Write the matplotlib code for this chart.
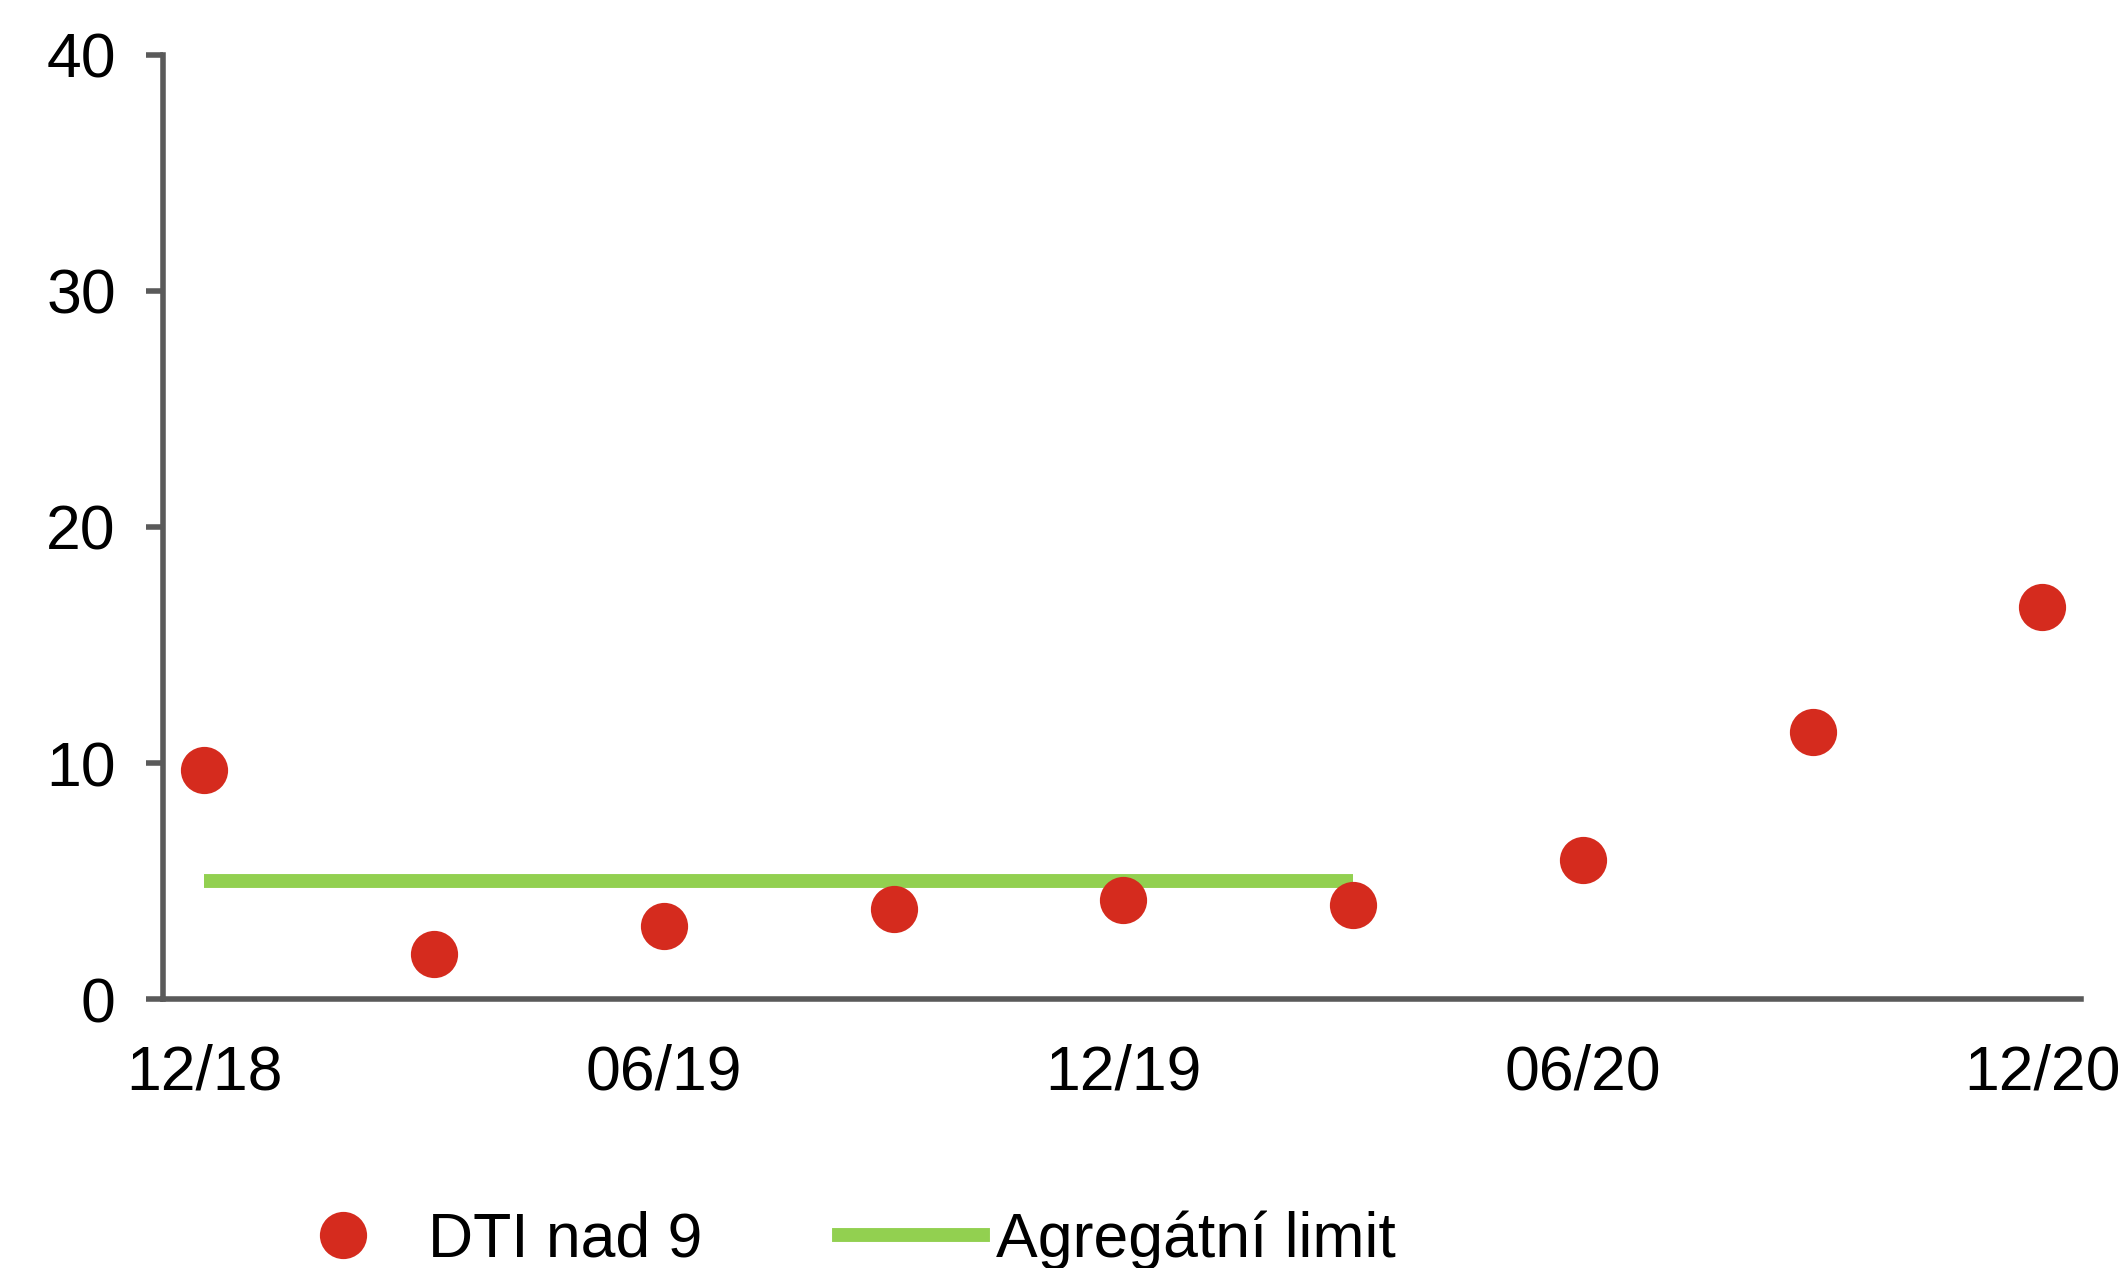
import numpy as np
import matplotlib.pyplot as plt
from matplotlib.lines import Line2D

plt.rcParams['font.family'] = ['Liberation Sans', 'DejaVu Sans']

# DATA
quarters = ["12/18", "03/19", "06/19", "09/19", "12/19", "03/20", "06/20", "09/20", "12/20"]
dti_over_9 = [9.7, 1.9, 3.1, 3.8, 4.2, 4.0, 5.9, 11.3, 16.6]
limit_quarters = ["12/18", "03/19", "06/19", "09/19", "12/19", "03/20"]
limit_values = [5, 5, 5, 5, 5, 5]
tick_labels = ["12/18", "06/19", "12/19", "06/20", "12/20"]
y_ticks = [0, 10, 20, 30, 40]

red = "#D52B1E"
green = "#92D050"
axis_grey = "#5A5A5A"

fig = plt.figure(figsize=(10.63, 6.34), dpi=200)
ax = fig.add_axes([0.0767, 0.212, 0.9023, 0.745])

x = np.arange(len(quarters))
x_limit = np.array([quarters.index(q) for q in limit_quarters])

ax.plot(x_limit, limit_values, color=green, lw=5, solid_capstyle='butt', zorder=2)
ax.plot(x, dti_over_9, 'o', color=red, markersize=17, markeredgewidth=0, zorder=3)

ax.set_xlim(-0.18, 8.17)
ax.set_ylim(0, 40)
ax.set_yticks(y_ticks)
ax.set_xticks([quarters.index(t) for t in tick_labels])
ax.set_xticklabels(tick_labels)

for s in ['top', 'right']:
    ax.spines[s].set_visible(False)
for s in ['left', 'bottom']:
    ax.spines[s].set_color(axis_grey)
    ax.spines[s].set_linewidth(2)

ax.tick_params(axis='y', length=6, width=2, color=axis_grey, pad=11, labelsize=22.5, labelcolor='black')
ax.tick_params(axis='x', length=0, pad=16, labelsize=22.5, labelcolor='black')

handles = [
    Line2D([], [], marker='o', color=red, linestyle='none', markersize=17, markeredgewidth=0),
    Line2D([], [], color=green, lw=5),
]
fig.legend(handles, ["DTI nad 9", "Agregátní limit"], loc='center',
           bbox_to_anchor=(0.392, 0.022), ncol=2, frameon=False, fontsize=22.5,
           handlelength=2.3, handletextpad=0.2, columnspacing=2.2, numpoints=1)

fig.savefig("out.png", dpi=200)
